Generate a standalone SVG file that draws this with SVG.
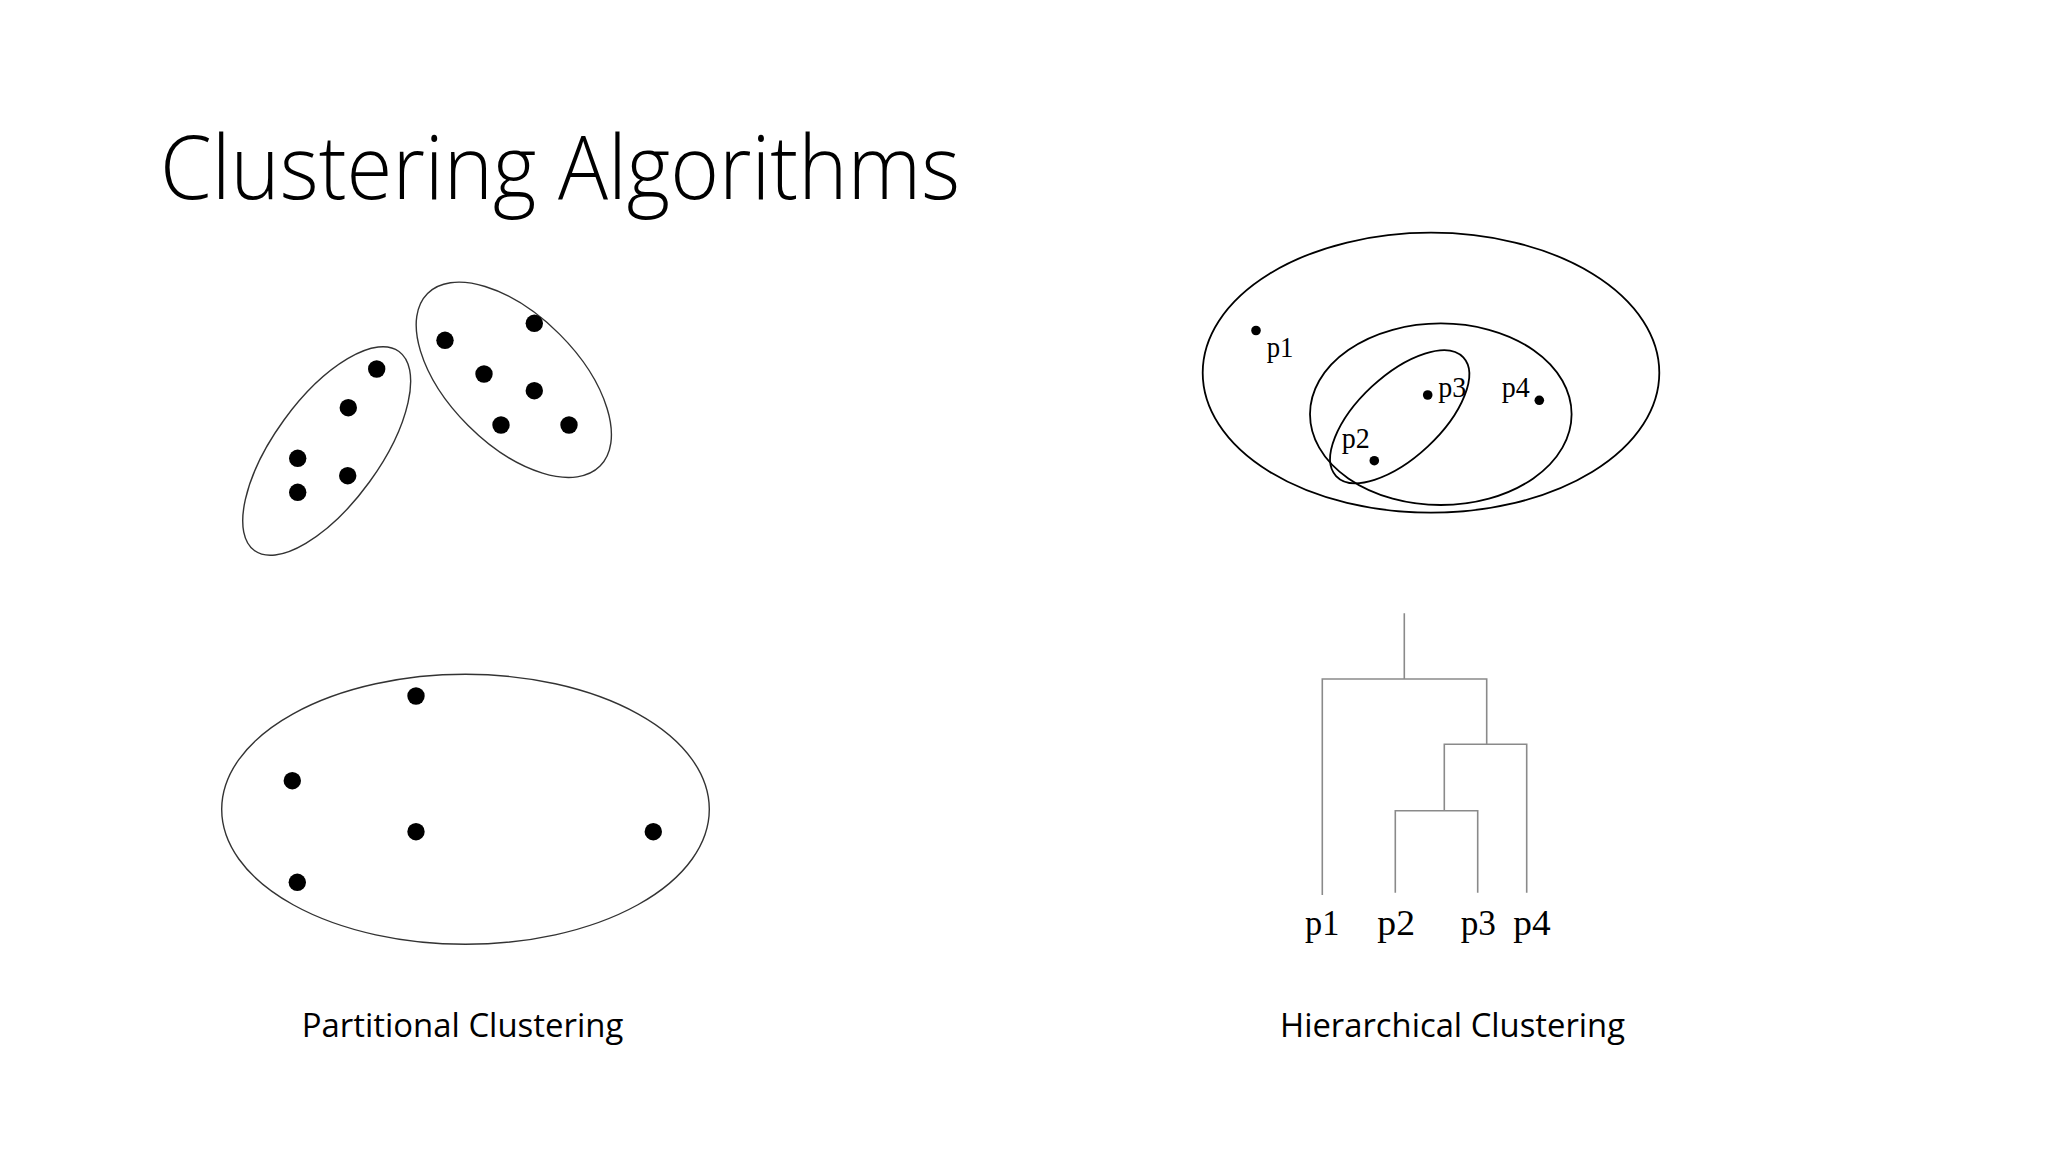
<svg xmlns="http://www.w3.org/2000/svg" width="2048" height="1152" viewBox="0 0 2048 1152">
<style>
.bg{fill:#ffffff}
.pell{fill:none;stroke:#333333;stroke-width:1.4}
.hell{fill:none;stroke:#000000;stroke-width:1.8}
.dot{fill:#000000}
.sdot{fill:#000000}
.dend{fill:none;stroke:#8a8a8a;stroke-width:1.6}
.title{font-family:"Open Sans","Lato","Liberation Sans",sans-serif;font-weight:300;font-size:89px;fill:#000}
.cap{font-family:"Open Sans","Liberation Sans",sans-serif;font-size:33px;fill:#000}
.lbl{font-family:"Liberation Serif","Times New Roman",serif;fill:#000}
</style>
<rect class="bg" x="0" y="0" width="2048" height="1152"/>
<text id="title" class="title" x="160" y="199" textLength="800" lengthAdjust="spacingAndGlyphs">Clustering Algorithms</text>

<g id="partitional-cluster-a">
<ellipse class="pell" cx="326.7" cy="451" rx="123" ry="52.8" transform="rotate(-54 326.7 451)"/>
<circle class="dot" cx="376.7" cy="369" r="8.7"/>
<circle class="dot" cx="348.3" cy="407.7" r="8.7"/>
<circle class="dot" cx="297.7" cy="458.3" r="8.7"/>
<circle class="dot" cx="347.7" cy="475.7" r="8.7"/>
<circle class="dot" cx="297.7" cy="492.3" r="8.7"/>
</g>
<g id="partitional-cluster-b">
<ellipse class="pell" cx="513.8" cy="379.8" rx="122" ry="64.6" transform="rotate(45 513.8 379.8)"/>
<circle class="dot" cx="534.3" cy="323.3" r="8.7"/>
<circle class="dot" cx="445" cy="340.3" r="8.7"/>
<circle class="dot" cx="484" cy="374" r="8.7"/>
<circle class="dot" cx="534.3" cy="390.7" r="8.7"/>
<circle class="dot" cx="501" cy="425" r="8.7"/>
<circle class="dot" cx="569" cy="425" r="8.7"/>
</g>
<g id="partitional-cluster-c">
<ellipse class="pell" cx="465.5" cy="809.3" rx="243.8" ry="135"/>
<circle class="dot" cx="416" cy="696" r="8.7"/>
<circle class="dot" cx="292.3" cy="780.7" r="8.7"/>
<circle class="dot" cx="416" cy="831.7" r="8.7"/>
<circle class="dot" cx="653.3" cy="831.7" r="8.7"/>
<circle class="dot" cx="297.3" cy="882.3" r="8.7"/>
</g>
<text id="caption-partitional" class="cap" x="301.7" y="1037.3" textLength="321.6" lengthAdjust="spacingAndGlyphs">Partitional Clustering</text>

<g id="nested-clusters">
<ellipse class="hell" cx="1431" cy="372.7" rx="228.3" ry="140"/>
<ellipse class="hell" cx="1440.8" cy="414.2" rx="130.8" ry="90.8"/>
<ellipse class="hell" cx="1399.7" cy="416.7" rx="87" ry="41" transform="rotate(-43 1399.7 416.7)"/>
<circle class="sdot" cx="1256" cy="330.5" r="4.8"/>
<circle class="sdot" cx="1427.7" cy="395" r="4.8"/>
<circle class="sdot" cx="1539.3" cy="400.3" r="4.8"/>
<circle class="sdot" cx="1374.3" cy="460.7" r="4.8"/>
<text class="lbl" x="1266.7" y="356.7" font-size="29" textLength="26.7" lengthAdjust="spacingAndGlyphs">p1</text>
<text class="lbl" x="1438.3" y="396.7" font-size="29" textLength="28" lengthAdjust="spacingAndGlyphs">p3</text>
<text class="lbl" x="1501.7" y="396.7" font-size="29" textLength="28" lengthAdjust="spacingAndGlyphs">p4</text>
<text class="lbl" x="1341.7" y="448.3" font-size="29" textLength="28" lengthAdjust="spacingAndGlyphs">p2</text>
</g>

<g id="dendrogram">
<path class="dend" d="M1404.3 613.3V679 M1322.3 895V679H1486.7V744.3 M1444.3 810.7V744.3H1526.7V892.7 M1395.3 892.7V810.7H1477.7V892.7"/>
<text class="lbl" x="1305" y="935" font-size="35" textLength="34.3" lengthAdjust="spacingAndGlyphs">p1</text>
<text class="lbl" x="1377.3" y="935" font-size="35" textLength="37.7" lengthAdjust="spacingAndGlyphs">p2</text>
<text class="lbl" x="1460.7" y="935" font-size="35" textLength="35.3" lengthAdjust="spacingAndGlyphs">p3</text>
<text class="lbl" x="1513.3" y="935" font-size="35" textLength="37.4" lengthAdjust="spacingAndGlyphs">p4</text>
</g>
<text id="caption-hierarchical" class="cap" x="1280" y="1037.3" textLength="345" lengthAdjust="spacingAndGlyphs">Hierarchical Clustering</text>
</svg>
